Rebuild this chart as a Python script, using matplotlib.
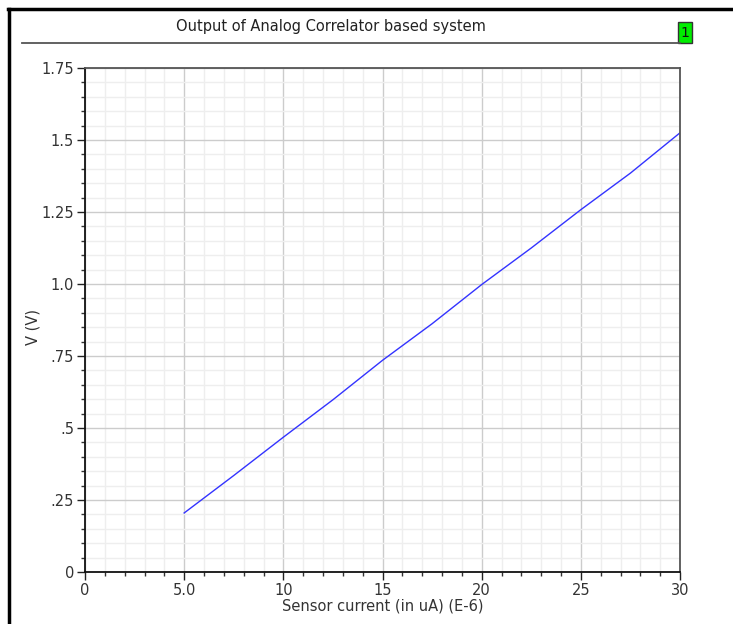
import matplotlib
matplotlib.use("Agg")
import matplotlib.pyplot as plt
from matplotlib.ticker import MultipleLocator, FixedLocator, FixedFormatter
from matplotlib.patches import Rectangle
from matplotlib.lines import Line2D

title = "Output of Analog Correlator based system"
xlabel = "Sensor current (in uA) (E-6)"
ylabel = "V (V)"
x_vals = [5, 7.5, 10, 12.5, 15, 17.5, 20, 22.5, 25, 27.5, 30]
y_vals = [0.205, 0.335, 0.468, 0.598, 0.735, 0.862, 0.998, 1.125, 1.258, 1.385, 1.525]
x_ticks = [0, 5, 10, 15, 20, 25, 30]
x_tick_labels = ["0", "5.0", "10", "15", "20", "25", "30"]
y_ticks = [0, 0.25, 0.5, 0.75, 1.0, 1.25, 1.5, 1.75]
y_tick_labels = ["0", ".25", ".5", ".75", "1.0", "1.25", "1.5", "1.75"]

W, H = 733, 624
fig = plt.figure(figsize=(W/100, H/100), dpi=100)
plt.rcParams['font.family'] = ['DejaVu Sans']

# axes: left 85, right 680, top 68, bottom 572
ax = fig.add_axes([85/W, 1-572/H, (680-85)/W, (572-68)/H])
ax.plot(x_vals, y_vals, color="#3333ff", lw=1.0)
ax.set_xlim(0, 30)
ax.set_ylim(0, 1.75)
ax.xaxis.set_major_locator(FixedLocator(x_ticks))
ax.xaxis.set_major_formatter(FixedFormatter(x_tick_labels))
ax.yaxis.set_major_locator(FixedLocator(y_ticks))
ax.yaxis.set_major_formatter(FixedFormatter(y_tick_labels))
ax.xaxis.set_minor_locator(MultipleLocator(1))
ax.yaxis.set_minor_locator(MultipleLocator(0.05))
ax.grid(which="minor", color="#eeeeee", lw=1.0)
ax.grid(which="major", color="#cccccc", lw=1.0)
ax.set_axisbelow(True)
ax.tick_params(which="major", length=6, width=1, color="#222222", labelsize=10.5, labelcolor="#333333", pad=2)
ax.tick_params(which="minor", length=3, width=1, color="#333333")
for s in ["left", "bottom"]:
    ax.spines[s].set_color("#111111")
    ax.spines[s].set_linewidth(1.3)
for s in ["top", "right"]:
    ax.spines[s].set_color("#555555")
    ax.spines[s].set_linewidth(1.3)
ax.set_xlabel(xlabel, fontsize=10.5, color="#333333", labelpad=0)
ax.set_ylabel(ylabel, fontsize=10.5, color="#333333")
ax.yaxis.set_label_coords((40-85)/(680-85), (572-327)/(572-68))

# frame lines
fig.add_artist(Line2D([8/W, 1], [1-9/H, 1-9/H], color="black", lw=2.5))
fig.add_artist(Line2D([9/W, 9/W], [0, 1-9/H], color="black", lw=2.5))
fig.add_artist(Line2D([22/W, 680/W], [1-42.5/H, 1-42.5/H], color="#555555", lw=1.3))
fig.text(331/W, 1-26/H, title, ha="center", va="center", fontsize=10.5, color="#222222")
fig.add_artist(Rectangle((678/W, 1-43/H), 14/W, 21/H, facecolor="#00ee00", edgecolor="#333333", lw=1))
fig.text(685/W, 1-33/H, "1", ha="center", va="center", fontsize=10, color="#111111")

fig.savefig("out.png", dpi=100)
